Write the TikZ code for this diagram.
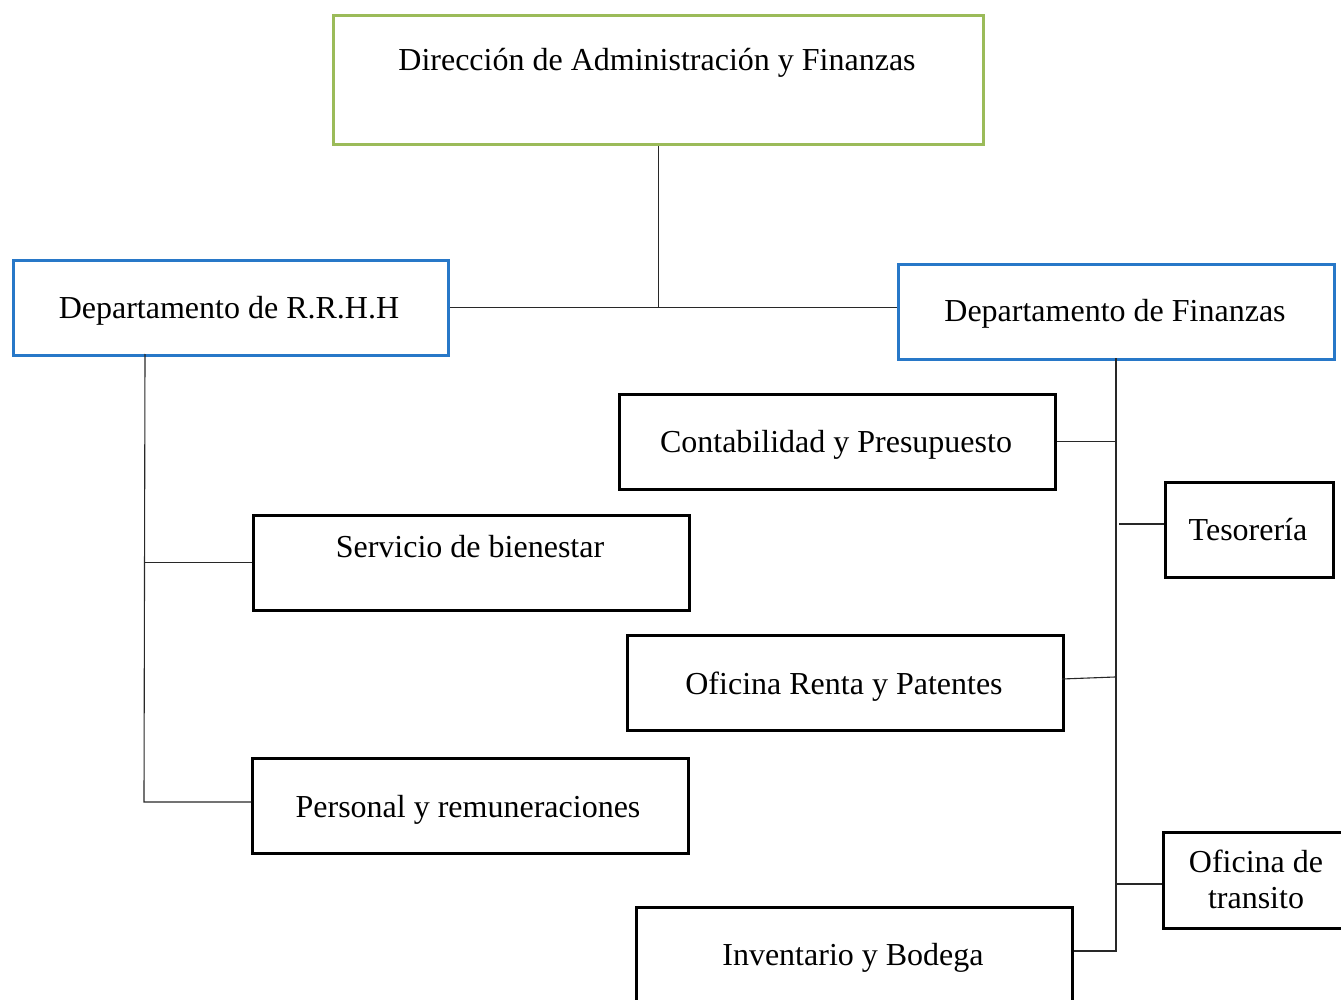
\documentclass[tikz,border=0pt]{standalone}
\usepackage{fontspec}
\setmainfont{Liberation Serif}
\definecolor{boxgreen}{RGB}{155,187,89}
\definecolor{boxblue}{RGB}{40,120,200}
\definecolor{linegray}{RGB}{40,40,40}
\begin{document}
\begin{tikzpicture}[x=1pt,y=-1pt,
  box/.style={draw=black, line width=2.6pt, inner sep=0pt, anchor=north west, minimum width=436pt, minimum height=95pt},
  greenbox/.style={box, draw=boxgreen, line width=2.8pt},
  bluebox/.style={box, draw=boxblue, line width=2.8pt},
  txt/.style={anchor=base, inner sep=0pt, font=\fontsize{32}{37}\selectfont},
  conn/.style={draw=linegray, line width=1.1pt}]
\useasboundingbox (0,0) rectangle (1341,1000);
\fill[white] (0,0) rectangle (1341,1000);
% boxes
\node[greenbox, minimum width=650pt, minimum height=129pt] (dir) at (332,14) {};
\node[bluebox, minimum width=435pt] (rrhh) at (12,259) {};
\node[bluebox] (fin) at (897,263) {};
\node[box] (cont) at (618,393) {};
\node[box, minimum width=168pt] (teso) at (1164,481) {};
\node[box] (serv) at (252,514) {};
\node[box] (renta) at (626,634) {};
\node[box] (pers) at (251,757) {};
\node[box, minimum width=220pt, minimum height=96pt] (trans) at (1162,831) {};
\node[box, minimum height=100pt] (inv) at (635,906) {};
% texts
\node[txt] (dirT) at (657,71) {Dirección de Administración y Finanzas};
\node[txt] (rrhhT) at (229,318) {Departamento de R.R.H.H};
\node[txt] (finT) at (1115,322) {Departamento de Finanzas};
\node[txt] (contT) at (836,452) {Contabilidad y Presupuesto};
\node[txt] (tesoT) at (1248,540) {Tesorería};
\node[txt] (servT) at (470,557) {Servicio de bienestar};
\node[txt] (rentaT) at (844,694) {Oficina Renta y Patentes};
\node[txt] (persT) at (468,817) {Personal y remuneraciones};
\node[txt] (transT1) at (1256,872) {Oficina de};
\node[txt] (transT2) at (1256,908) {transito};
\node[txt] (invT) at (853,965) {Inventario y Bodega};
% connectors
\coordinate (ls) at (145,354);
\coordinate (lsb) at (144,802);
\coordinate (rs) at (1116,358);
\coordinate (rsb) at (1116,951);
\coordinate (tesoJ) at (1119,524);
\coordinate (rentaJ) at (1115,677);
\coordinate (rentaE) at (1062,679);
\coordinate (tw) at (1162,884);
\draw[conn] (dir.south) -- (dir.south |- rrhh.east);
\draw[conn] (rrhh.east) -- (rrhh.east -| fin.west);
\draw[conn] (ls) -- (lsb) -- (lsb -| pers.west);
\draw[conn] (ls |- serv.west) -- (serv.west);
\draw[conn] (rs) -- (rsb) -- (rsb -| inv.east);
\draw[conn] (cont.east) -- (cont.east -| rs);
\draw[conn] (tesoJ) -- (tesoJ -| teso.west);
\draw[conn] (rentaE) -- (rentaJ);
\draw[conn] (tw) -- (tw -| rs);
\end{tikzpicture}
\end{document}
